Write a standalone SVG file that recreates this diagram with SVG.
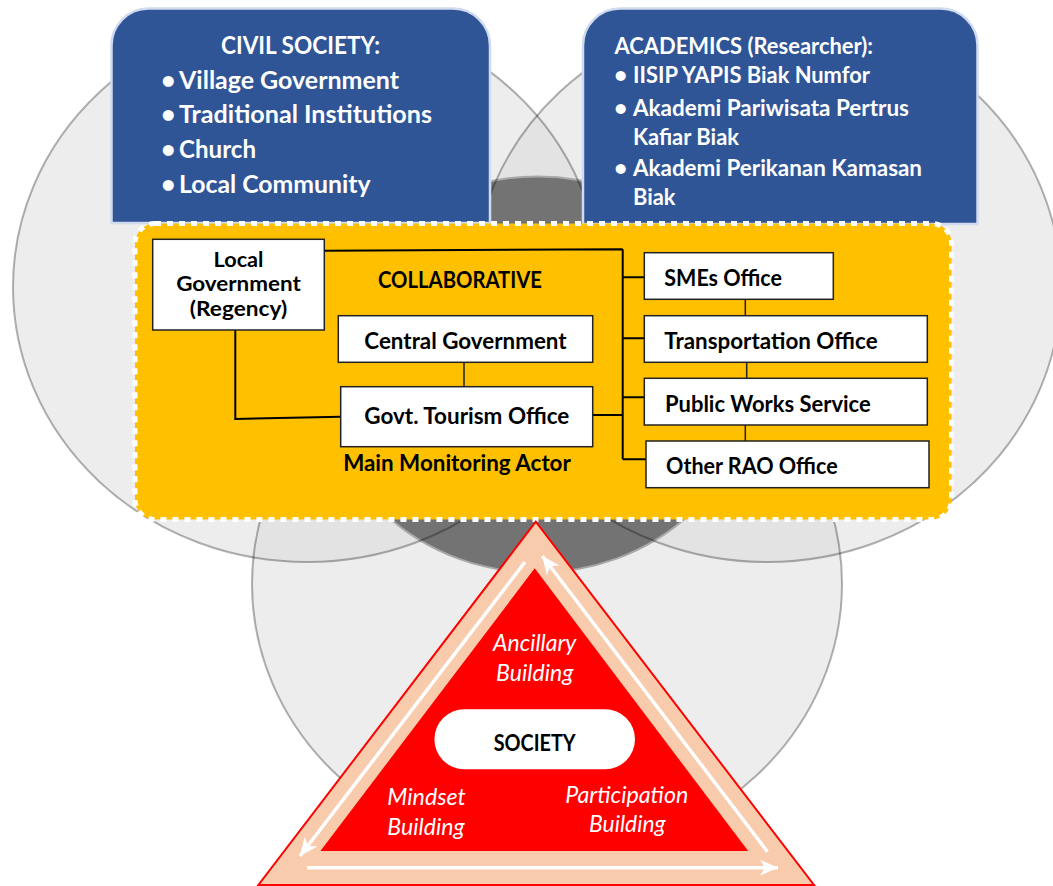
<svg xmlns="http://www.w3.org/2000/svg" width="1053" height="886" viewBox="0 0 1053 886">
<style>
.ell{fill:#d5d5d5;fill-opacity:0.44;stroke:none}
.ell-line{fill:none;stroke:#000;stroke-opacity:0.3;stroke-width:2}
.blue{fill:#2f5597;stroke:#d0dbef;stroke-width:2.5}
.wt{font-family:Lato,"Open Sans",sans-serif;font-weight:700;fill:#fff}
.box{fill:#fff;stroke:#222;stroke-width:1.5}
.bt{font-family:Lato,"Open Sans",sans-serif;font-weight:700;fill:#000;font-size:22px}
.conn{fill:none;stroke:#000;stroke-width:2}
.thin{fill:none;stroke:#222;stroke-width:1.5}
.it{font-family:Lato,"Open Sans",sans-serif;font-style:italic;fill:#fff;font-size:23px}
.arr{fill:none;stroke:#fff;stroke-width:3.5}
</style>
<defs>
<marker id="head" viewBox="0 -8 18 16" refX="18" refY="0" markerWidth="18" markerHeight="16" markerUnits="userSpaceOnUse" orient="auto">
<path d="M0,-8 L18,0 L0,8 L5,0 Z" fill="#fff"/>
</marker>
</defs>
<rect width="1053" height="886" fill="#fff"/>
<g id="venn">
<ellipse class="ell" cx="307" cy="287" rx="294" ry="275"/>
<ellipse class="ell" cx="767" cy="287" rx="294" ry="275"/>
<ellipse class="ell" cx="547" cy="584" rx="295" ry="272"/>
<ellipse cx="537.5" cy="374.5" rx="215" ry="198" fill="#737373" stroke="#a8a8a8" stroke-width="2"/>
<ellipse class="ell-line" cx="307" cy="287" rx="294" ry="275"/>
<ellipse class="ell-line" cx="767" cy="287" rx="294" ry="275"/>
<ellipse class="ell-line" cx="547" cy="584" rx="295" ry="272"/>
</g>
<g id="civil-society">
<path class="blue" d="M111.5,223 V45.5 A37,37 0 0 1 148.5,8.5 H453 A37,37 0 0 1 490,45.5 V223 Z"/>
<text class="wt" font-size="25" x="300.5" y="54" text-anchor="middle" textLength="159" lengthAdjust="spacingAndGlyphs">CIVIL SOCIETY:</text>
<text class="wt" font-size="25" y="89"><tspan x="161">•</tspan><tspan x="179" textLength="220" lengthAdjust="spacingAndGlyphs">Village Government</tspan></text>
<text class="wt" font-size="25" y="123"><tspan x="161">•</tspan><tspan x="179" textLength="253" lengthAdjust="spacingAndGlyphs">Traditional Institutions</tspan></text>
<text class="wt" font-size="25" y="158"><tspan x="161">•</tspan><tspan x="179" textLength="77" lengthAdjust="spacingAndGlyphs">Church</tspan></text>
<text class="wt" font-size="25" y="192.5"><tspan x="161">•</tspan><tspan x="179" textLength="191.5" lengthAdjust="spacingAndGlyphs">Local Community</tspan></text>
</g>
<g id="academics">
<path class="blue" d="M583,224 V45.5 A37,37 0 0 1 620,8.5 H940.5 A37,37 0 0 1 977.5,45.5 V224 Z"/>
<text class="wt" font-size="23" x="614.5" y="54" textLength="258.5" lengthAdjust="spacingAndGlyphs">ACADEMICS (Researcher):</text>
<text class="wt" font-size="23" y="83.3"><tspan x="614">•</tspan><tspan x="633" textLength="237" lengthAdjust="spacingAndGlyphs">IISIP YAPIS Biak Numfor</tspan></text>
<text class="wt" font-size="23" y="115.6"><tspan x="614">•</tspan><tspan x="633" textLength="276" lengthAdjust="spacingAndGlyphs">Akademi Pariwisata Pertrus</tspan></text>
<text class="wt" font-size="23" x="633" y="144.6" textLength="106" lengthAdjust="spacingAndGlyphs">Kafiar Biak</text>
<text class="wt" font-size="23" y="176"><tspan x="614">•</tspan><tspan x="633" textLength="289" lengthAdjust="spacingAndGlyphs">Akademi Perikanan Kamasan</tspan></text>
<text class="wt" font-size="23" x="633" y="205" textLength="42.5" lengthAdjust="spacingAndGlyphs">Biak</text>
</g>
<g id="collaborative">
<rect x="135" y="223.5" width="816.5" height="296" rx="20" fill="#ffc000" stroke="#fff" stroke-width="5" stroke-dasharray="6 6"/>
<text class="bt" x="460" y="288.3" text-anchor="middle" textLength="164" lengthAdjust="spacingAndGlyphs">COLLABORATIVE</text>
<text class="bt" x="457" y="470.7" text-anchor="middle" textLength="227.7" lengthAdjust="spacingAndGlyphs">Main Monitoring Actor</text>
</g>
<g id="connectors">
<path class="conn" d="M324.3,250.8 L622.7,249.2 M622.7,249.2 V459.3"/>
<path class="conn" d="M622.7,277.3 H644.3 M622.7,338.3 H644.3 M622.7,397.3 H644.3 M622.7,459.3 H646"/>
<path class="conn" d="M592.7,415 H622.7"/>
<path class="conn" d="M235.3,330 V419 L340.7,416.7"/>
<path class="thin" d="M464,362.3 V386.7"/>
<path class="thin" d="M745.3,299.3 V315.7 M746.7,362.3 V378.3 M745.3,425 V441"/>
</g>
<g id="local-government">
<rect class="box" x="152.7" y="239.3" width="171.6" height="90.7"/>
<text class="bt" font-size="20" style="font-size:20px" x="238.5" y="267" text-anchor="middle" textLength="50" lengthAdjust="spacingAndGlyphs">Local</text>
<text class="bt" style="font-size:20px" x="238.5" y="291" text-anchor="middle" textLength="124.7" lengthAdjust="spacingAndGlyphs">Government</text>
<text class="bt" style="font-size:20px" x="238.5" y="315.5" text-anchor="middle" textLength="97.3" lengthAdjust="spacingAndGlyphs">(Regency)</text>
</g>
<g id="central-government">
<rect class="box" x="338.3" y="315.7" width="254.4" height="46.6"/>
<text class="bt" x="465.5" y="349" text-anchor="middle" textLength="202.3" lengthAdjust="spacingAndGlyphs">Central Government</text>
</g>
<g id="tourism-office">
<rect class="box" x="340.7" y="386.7" width="252" height="60"/>
<text class="bt" x="466.8" y="424" text-anchor="middle" textLength="205" lengthAdjust="spacingAndGlyphs">Govt. Tourism Office</text>
</g>
<g id="smes-office">
<rect class="box" x="644.3" y="252.7" width="189" height="46.6"/>
<text class="bt" x="664.3" y="286" textLength="117.7" lengthAdjust="spacingAndGlyphs">SMEs Office</text>
</g>
<g id="transportation-office">
<rect class="box" x="644.3" y="315.7" width="283" height="46.6"/>
<text class="bt" x="664.3" y="349" textLength="213.3" lengthAdjust="spacingAndGlyphs">Transportation Office</text>
</g>
<g id="public-works">
<rect class="box" x="644.3" y="378.3" width="283" height="46.7"/>
<text class="bt" x="665" y="411.7" textLength="205.7" lengthAdjust="spacingAndGlyphs">Public Works Service</text>
</g>
<g id="other-rao">
<rect class="box" x="646" y="441" width="283" height="46.7"/>
<text class="bt" x="666" y="474" textLength="171.7" lengthAdjust="spacingAndGlyphs">Other RAO Office</text>
</g>
<g id="society-triangle">
<path d="M535.8,521.7 L258.4,885 L814,885 Z" fill="#f8cbad" stroke="#ff0000" stroke-width="2"/>
<path d="M534.7,568.3 L320.4,851 L748.2,851 Z" fill="#ff0000"/>
<path class="arr" d="M525,562 L300,856" marker-end="url(#head)"/>
<path class="arr" d="M307,867.7 L778,867.7" marker-end="url(#head)"/>
<path class="arr" d="M767.4,851.7 L542.3,556" marker-end="url(#head)"/>
<text class="it" x="534.7" y="651" text-anchor="middle" textLength="83.4" lengthAdjust="spacingAndGlyphs">Ancillary</text>
<text class="it" x="534.7" y="681" text-anchor="middle" textLength="77.3" lengthAdjust="spacingAndGlyphs">Building</text>
<text class="it" x="387.3" y="805" textLength="78.5" lengthAdjust="spacingAndGlyphs">Mindset</text>
<text class="it" x="387.3" y="835" textLength="77.3" lengthAdjust="spacingAndGlyphs">Building</text>
<text class="it" x="565.3" y="803" textLength="123" lengthAdjust="spacingAndGlyphs">Participation</text>
<text class="it" x="589" y="832" textLength="76.6" lengthAdjust="spacingAndGlyphs">Building</text>
</g>
<g id="society">
<rect x="434.4" y="709.3" width="200.6" height="60" rx="30" fill="#fff"/>
<text class="bt" x="534.7" y="751" text-anchor="middle" textLength="82" lengthAdjust="spacingAndGlyphs">SOCIETY</text>
</g>
</svg>
